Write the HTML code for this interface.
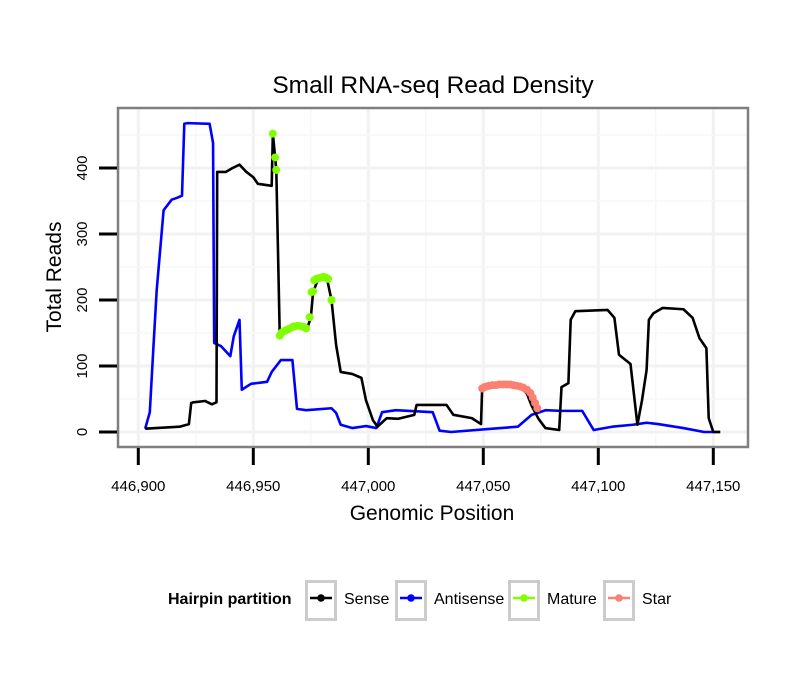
<!DOCTYPE html>
<html><head><meta charset="utf-8"><style>
body{margin:0;background:#fff;}
svg text{font-family:"Liberation Sans",sans-serif;}
</style></head><body>
<svg id="chart" width="810" height="690" xmlns="http://www.w3.org/2000/svg">
<rect width="810" height="690" fill="#fff"/>
<text x="433" y="93" font-size="24.5" text-anchor="middle">Small RNA-seq Read Density</text>
<g id="grid"></g>
<g id="series"></g>
<rect x="118" y="108" width="630" height="339" fill="none" stroke="#7f7f7f" stroke-width="2.5"/>
<g id="axes"></g>
<text x="432" y="520" font-size="21" text-anchor="middle">Genomic Position</text>
<text transform="translate(61,277) rotate(-90)" font-size="21" text-anchor="middle">Total Reads</text>
<g>
<text x="168" y="604" font-size="16" font-weight="bold">Hairpin partition</text>
<g id="legend"></g>
</g>
</svg>
<script>
const xTicks = [446900, 446950, 447000, 447050, 447100, 447150];
const xTickLabels = ["446,900", "446,950", "447,000", "447,050", "447,100", "447,150"];
const yTicks = [0, 100, 200, 300, 400];
const yTickLabels = ["0", "100", "200", "300", "400"];
const senseX = [446903,446918,446922,446923,446924,446929,446932,446934,446934.3,446938,446941,446944,446947,446950,446952,446958,446958.5,446959.5,446960,446961.5,446964,446967,446971,446973.5,446975,446976,446978,446982,446984,446986,446988,446993,446997,446999,447002,447004,447008,447013,447020,447021,447034,447037,447045,447049,447049.5,447052,447056,447062,447066,447069,447071,447074,447077,447083,447084,447087,447088,447090,447104,447107,447109,447114,447117,447119,447121,447122,447124,447128,447137,447141,447144,447147,447148,447150,447153];
const senseY = [5,8,12,44,45,47,42,45,394,394,400,405,394,386,376,373,452,416,397,146,155,159,160,158,173,212,230,233,200,132,91,88,82,48,18,8,21,20,26,41,41,26,21,12,65,70,72,72,68,58,40,20,6,3,68,74,170,183,185,173,117,103,11,48,94,170,180,188,186,173,142,127,21,0,0];
const antiX = [446903,446905,446906.5,446908,446911,446914.5,446917,446919,446920,446921.5,446931,446932.5,446933,446936,446940,446941.5,446944,446945,446949,446956,446958,446962,446967,446969,446973,446984,446986,446988,446993,446999,447003.5,447006,447012,447028,447031,447036,447054,447065,447071,447077,447084,447093,447098,447106,447115,447121,447126,447137,447146,447153];
const antiY = [5,30,124,215,336,352,355,358,467,468,467,438,135,130,115,145,170,64,73,76,91,109,109,35,33,36,29,11,6,9,6,30,33,30,2,0,5,8,26,33,32,32,3,8,11,14,12,6,0,0];
const matureX = [446958.5,446959.5,446960,446961.5,446962.5,446963.5,446964.5,446965.5,446967,446968,446969.5,446971,446972,446973,446974.5,446975.3,446976,446976.5,446977.5,446978.5,446979.5,446980.5,446981.5,446982.5,446984];
const matureY = [452,416,397,146,151,153,155,156,159,160,161,160,159,157,174,212,213,230,232,233,234,235,234,232,200];
const starX = [447049.5,447050.5,447051.5,447052.5,447054,447055.5,447057,447058.5,447060,447061.5,447063,447064.5,447066,447067.5,447069,447070.5,447071.5,447072.5,447073.5];
const starY = [66,68,69,70,71,71,72,72,72,72,71,70,69,67,64,59,52,44,36];

const NS = "http://www.w3.org/2000/svg";
const xs = v => 138.3 + (v - 446900) * 2.3;
const ys = v => 432 - v * 0.66;
function mk(tag, attrs, parent){const e=document.createElementNS(NS,tag);for(const k in attrs)e.setAttribute(k,attrs[k]);parent.appendChild(e);return e;}
const grid=document.getElementById('grid'), axes=document.getElementById('axes'), series=document.getElementById('series'), legend=document.getElementById('legend');
mk('rect',{x:118,y:108,width:630,height:339,fill:'#fff'},grid);
for(let i=0;i<xTicks.length;i++){
  const x=xs(xTicks[i]);
  let g=mk('line',{x1:x,x2:x,y1:108,y2:447,stroke:'#f2f2f2','stroke-width':3},grid);
  
  
  if(i<xTicks.length-1){const xm=xs((xTicks[i]+xTicks[i+1])/2);mk('line',{x1:xm,x2:xm,y1:108,y2:447,stroke:'#f7f7f7','stroke-width':1.5},grid);}
  let t=mk('line',{x1:x,x2:x,y1:448,y2:465,stroke:'#000','stroke-width':3},axes);
  
  
  let l=mk('text',{x:x,y:491,'font-size':15,'text-anchor':'middle'},axes);l.textContent=xTickLabels[i];
  
  
}
for(let i=0;i<yTicks.length;i++){
  const y=ys(yTicks[i]);
  let g=mk('line',{x1:118,x2:748,y1:y,y2:y,stroke:'#f2f2f2','stroke-width':3},grid);
  
  
  const ym=ys(yTicks[i]+50);mk('line',{x1:118,x2:748,y1:ym,y2:ym,stroke:'#f7f7f7','stroke-width':1.5},grid);
  let t=mk('line',{x1:99,x2:117,y1:y,y2:y,stroke:'#000','stroke-width':3},axes);
  
  
  let l=mk('text',{transform:`translate(87,${y}) rotate(-90)`,'font-size':15,'text-anchor':'middle'},axes);l.textContent=yTickLabels[i];
  
  
}
function line(X,Y,color,name){
  const p=mk('polyline',{points:X.map((x,i)=>xs(x)+','+ys(Y[i])).join(' '),fill:'none',stroke:color,'stroke-width':2.6,'stroke-linejoin':'round'},series);
  
  
}
function pts(X,Y,color,name){
  X.forEach((x,i)=>{const c=mk('circle',{cx:xs(x),cy:ys(Y[i]),r:4,fill:color},series);
    
    });
}
line(antiX,antiY,'#0000ff','antisense-line');
line(senseX,senseY,'#000000','sense-line');
pts(matureX,matureY,'#7fff00','mature');
pts(starX,starY,'#fa8072','star');
const legItems=[['Sense','#000',305],['Antisense','#0000ff',395],['Mature','#7fff00',508],['Star','#fa8072',603]];
legItems.forEach(([n,c,x])=>{
  const g=mk('g',{},legend);
  
  
  mk('rect',{x:x+1.5,y:581.5,width:29,height:38,fill:'#fff',stroke:'#cccccc','stroke-width':3},g);
  mk('line',{x1:x+5,x2:x+27,y1:598,y2:598,stroke:c,'stroke-width':2.4},g);
  mk('circle',{cx:x+16,cy:598,r:3.8,fill:c},g);
  const t=mk('text',{x:x+39,y:604,'font-size':16},g);t.textContent=n;
});
</script>
</body></html>
